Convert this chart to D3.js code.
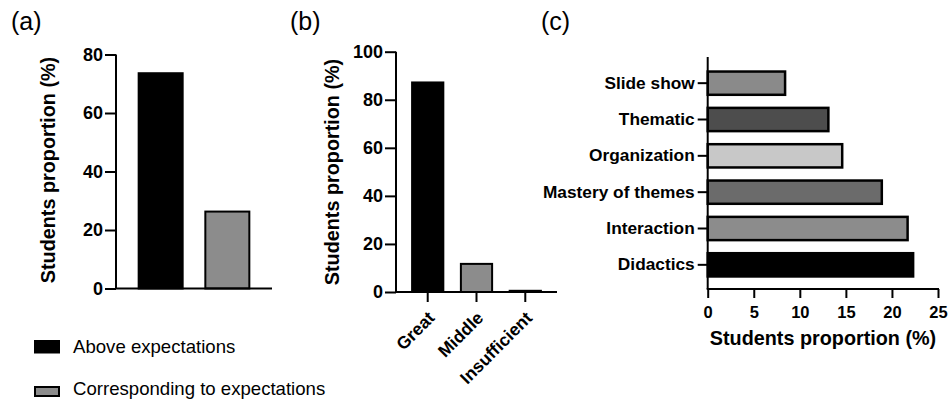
<!DOCTYPE html>
<html>
<head>
<meta charset="utf-8">
<script src="https://cdn.jsdelivr.net/npm/d3@7"></script>
<style>
  html, body { margin: 0; padding: 0; background: #fff; }
  svg { display: block; font-family: "Liberation Sans", Arial, sans-serif; }
  .tick text { font-family: "Liberation Sans", Arial, sans-serif; font-weight: bold; fill: #000; }
  .tick line, .domain { stroke: #000; stroke-width: 2px; }
</style>
</head>
<body>
<svg id="chart" width="948" height="399"></svg>
<script>
// Panel (a): overall rating
const aCategories = ["Above expectations", "Corresponding to expectations"];
const aValues = [73.6, 26.3];
const aColors = ["#000000", "#8c8c8c"];
const aTicks = [0, 20, 40, 60, 80];

// Panel (b): evaluation level
const bCategories = ["Great", "Middle", "Insufficient"];
const bValues = [87.2, 11.7, 0.5];
const bColors = ["#000000", "#8c8c8c", "#8c8c8c"];
const bTicks = [0, 20, 40, 60, 80, 100];

// Panel (c): most valued aspects
const cCategories = ["Didactics", "Interaction", "Mastery of themes", "Organization", "Thematic", "Slide show"];
const cValues = [22.3, 21.7, 18.9, 14.6, 13.1, 8.4];
const cColors = ["#000000", "#8c8c8c", "#6b6b6b", "#c8c8c8", "#4d4d4d", "#8a8a8a"];
const cTicks = [0, 5, 10, 15, 20, 25];

const svg = d3.select("#chart");

function panelLabel(text, x, y) {
  svg.append("text").attr("x", x).attr("y", y)
    .attr("font-size", 25).attr("fill", "#000").text(text);
}

function yTitle(x, y) {
  svg.append("text")
    .attr("transform", `translate(${x},${y}) rotate(-90)`)
    .attr("text-anchor", "middle")
    .attr("font-size", 19.8).attr("font-weight", "bold")
    .text("Students proportion (%)");
}

// ---------- (a) ----------
{
  const x0 = 116, x1 = 272, yTop = 54.5, yBot = 288.5;
  const y = d3.scaleLinear().domain([0, 80]).range([yBot, yTop]);
  const x = d3.scaleBand().domain(aCategories).range([x0, x1])
    .paddingInner(0.34).paddingOuter(0.34);

  svg.append("g").selectAll("rect").data(aCategories).join("rect")
    .attr("x", d => x(d)).attr("width", x.bandwidth())
    .attr("y", (d, i) => y(aValues[i])).attr("height", (d, i) => yBot - y(aValues[i]))
    .attr("fill", (d, i) => aColors[i])
    .attr("stroke", "#000").attr("stroke-width", 2);

  const ya = svg.append("g").attr("transform", `translate(${x0},0)`)
    .call(d3.axisLeft(y).tickValues(aTicks).tickSize(11).tickPadding(2).tickSizeOuter(0));
  ya.select(".domain").attr("d", `M0,${yTop}V${yBot}`);
  ya.selectAll(".tick text").style("font-size", "18px");

  svg.append("line").attr("x1", x0 - 1).attr("x2", x1)
    .attr("y1", yBot).attr("y2", yBot).attr("stroke", "#000").attr("stroke-width", 2);

  yTitle(55, 170);
  panelLabel("(a)", 11, 30);

  // legend
  const lg = svg.append("g");
  const boxY = [341, 387];
  const textY = [353, 394.5];
  aCategories.forEach((c, i) => {
    lg.append("rect").attr("x", 35).attr("y", boxY[i])
      .attr("width", 24).attr("height", i ? 9 : 11.5)
      .attr("fill", aColors[i]).attr("stroke", "#000").attr("stroke-width", 2);
    lg.append("text").attr("x", 73).attr("y", textY[i])
      .attr("font-size", 18.6).attr("fill", "#000").text(c);
  });
}

// ---------- (b) ----------
{
  const x0 = 396, x1 = 557, yTop = 51.7, yBot = 292;
  const y = d3.scaleLinear().domain([0, 100]).range([yBot, yTop]);
  const x = d3.scaleBand().domain(bCategories).range([x0, x1])
    .paddingInner(0.36).paddingOuter(0.33);

  svg.append("g").selectAll("rect").data(bCategories).join("rect")
    .attr("x", d => x(d)).attr("width", x.bandwidth())
    .attr("y", (d, i) => y(bValues[i])).attr("height", (d, i) => yBot - y(bValues[i]))
    .attr("fill", (d, i) => bColors[i])
    .attr("stroke", "#000").attr("stroke-width", 2);

  const yb = svg.append("g").attr("transform", `translate(${x0},0)`)
    .call(d3.axisLeft(y).tickValues(bTicks).tickSize(11).tickPadding(2).tickSizeOuter(0));
  yb.select(".domain").attr("d", `M0,${yTop}V${yBot}`);
  yb.selectAll(".tick text").style("font-size", "18px");

  const xb = svg.append("g").attr("transform", `translate(0,${yBot})`)
    .call(d3.axisBottom(x).tickSize(10).tickSizeOuter(0));
  xb.select(".domain").attr("d", `M${x0 - 1},0H${x1}`);
  xb.selectAll(".tick text")
    .attr("text-anchor", "end")
    .style("font-size", "17.5px")
    .attr("y", 0).attr("dy", 0)
    .attr("transform", "translate(8,27) rotate(-45)");

  yTitle(339, 172);
  panelLabel("(b)", 290, 30);
}

// ---------- (c) ----------
{
  const x0 = 707.7, x1 = 938, yTop = 57, yBot = 289;
  const x = d3.scaleLinear().domain([0, 25]).range([x0, x1]);
  const y = d3.scaleBand().domain(cCategories).range([283, 65])
    .paddingInner(0.36).paddingOuter(0.18);

  svg.append("g").selectAll("rect").data(cCategories).join("rect")
    .attr("x", x0).attr("width", (d, i) => x(cValues[i]) - x0)
    .attr("y", d => y(d)).attr("height", y.bandwidth())
    .attr("fill", (d, i) => cColors[i])
    .attr("stroke", "#000").attr("stroke-width", 2.5);

  const yc = svg.append("g").attr("transform", `translate(${x0},0)`)
    .call(d3.axisLeft(y).tickSize(10).tickPadding(3).tickSizeOuter(0));
  yc.select(".domain").attr("d", `M0,${yTop}V${yBot}`);
  yc.selectAll(".tick text").style("font-size", "17.3px");

  const xc = svg.append("g").attr("transform", `translate(0,${yBot})`)
    .call(d3.axisBottom(x).tickValues(cTicks).tickSize(9).tickPadding(8).tickSizeOuter(0));
  xc.select(".domain").attr("d", `M${x0 - 1},0H${x1 + 1}`);
  xc.selectAll(".tick text").style("font-size", "16.5px");

  svg.append("text").attr("x", 823).attr("y", 345)
    .attr("text-anchor", "middle")
    .attr("font-size", 19.8).attr("font-weight", "bold")
    .text("Students proportion (%)");

  panelLabel("(c)", 541, 30);
}
</script>
</body>
</html>
